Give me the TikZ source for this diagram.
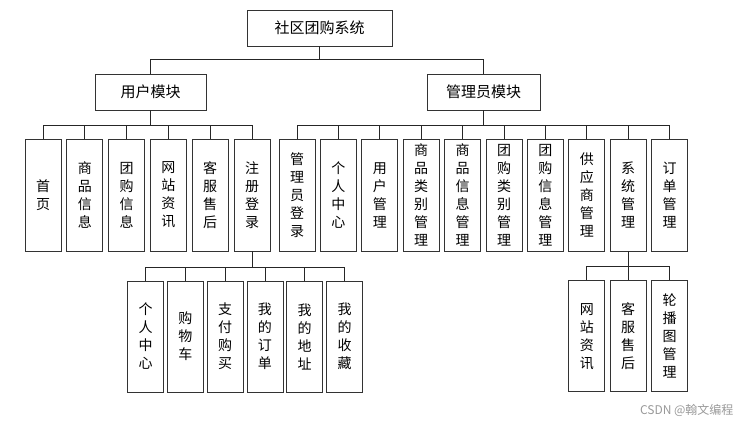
\documentclass[tikz,border=0pt]{standalone}
\usepackage{fontspec}
\setmainfont{Noto Sans CJK SC}
\usepackage{tikz}
\usetikzlibrary{positioning}
\tikzstyle{module} = [rectangle,
minimum height=36pt,
text centered,
draw=black!80, line width=0.8pt,
font=\fontsize{15}{18}\selectfont]
\tikzstyle{leaf} = [rectangle,
minimum width=36pt,
minimum height=112pt,
align=center, inner sep=0pt,
draw=black!80, line width=0.8pt,
font=\fontsize{14}{18}\selectfont]
\tikzstyle{subleaf} = [leaf, minimum height=111pt]
\tikzstyle{line} = [draw=black!85, line width=0.7pt]

\begin{document}
\begin{tikzpicture}[x=1pt, y=1pt, node distance=41.8pt]
	\useasboundingbox (0,0) rectangle (747,-422);
	\node (root) [module, minimum width=145pt] at (319.5,-28) {社区团购系统};
	\node (user) [module, minimum width=111pt] at (150.5,-92) {用户模块};
	\node (admin) [module, minimum width=113pt] at (483.5,-92) {管理员模块};

	% user module
	\node (home) [leaf] at (43,-195) {首\\页};
	\node (goodsinfo) [leaf, right of=home] {商\\品\\信\\息};
	\node (groupinfo) [leaf, right of=goodsinfo] {团\\购\\信\\息};
	\node (news) [leaf, right of=groupinfo] {网\\站\\资\\讯};
	\node (service) [leaf, right of=news] {客\\服\\售\\后};
	\node (login) [leaf, right of=service] {注\\册\\登\\录};

	% admin module
	\begin{scope}[node distance=41.4pt]
	\node (adminlogin) [leaf] at (297,-195) {管\\理\\员\\登\\录};
	\node (center) [leaf, right of=adminlogin] {个\\人\\中\\心};
	\node (usermgr) [leaf, right of=center] {用\\户\\管\\理};
	\node (goodscat) [leaf, right of=usermgr] {商\\品\\类\\别\\管\\理};
	\node (goodsmgr) [leaf, right of=goodscat] {商\\品\\信\\息\\管\\理};
	\node (groupcat) [leaf, right of=goodsmgr] {团\\购\\类\\别\\管\\理};
	\node (groupmgr) [leaf, right of=groupcat] {团\\购\\信\\息\\管\\理};
	\node (supplier) [leaf, right of=groupmgr] {供\\应\\商\\管\\理};
	\node (sysmgr) [leaf, right of=supplier] {系\\统\\管\\理};
	\node (ordermgr) [leaf, right of=sysmgr] {订\\单\\管\\理};
	\end{scope}

	% login sub items
	\begin{scope}[node distance=39.8pt]
	\node (mycenter) [subleaf] at (145.5,-336.5) {个\\人\\中\\心};
	\node (cart) [subleaf, right of=mycenter] {购\\物\\车};
	\node (pay) [subleaf, right of=cart] {支\\付\\购\\买};
	\node (myorder) [subleaf, right of=pay] {我\\的\\订\\单};
	\node (myaddr) [subleaf, right of=myorder] {我\\的\\地\\址};
	\node (myfav) [subleaf, right of=myaddr] {我\\的\\收\\藏};
	\end{scope}

	% system sub items
	\node (sysnews) [subleaf, below of=supplier, yshift=-99.5pt] {网\\站\\资\\讯};
	\node (sysservice) [subleaf, below of=sysmgr, yshift=-99.5pt] {客\\服\\售\\后};
	\node (banner) [subleaf, below of=ordermgr, yshift=-99.5pt] {轮\\播\\图\\管\\理};

	\node (mark) [text=black!40, font=\fontsize{12}{14}\selectfont, anchor=east] at (737,-410) {CSDN @翰文编程};

	\foreach \m in {user,admin}
		\draw [line] (root.south) -- ++(0,-13) -| (\m.north);
	\foreach \c in {home,goodsinfo,groupinfo,news,service,login}
		\draw [line] (user.south) -- ++(0,-15) -| (\c.north);
	\foreach \c in {adminlogin,center,usermgr,goodscat,goodsmgr,groupcat,groupmgr,supplier,sysmgr,ordermgr}
		\draw [line] (admin.south) -- ++(0,-15) -| (\c.north);
	\foreach \c in {mycenter,cart,pay,myorder,myaddr,myfav}
		\draw [line] (login.south) -- ++(0,-16) -| (\c.north);
	\foreach \c in {sysnews,sysservice,banner}
		\draw [line] (sysmgr.south) -- ++(0,-15) -| (\c.north);
\end{tikzpicture}
\end{document}
